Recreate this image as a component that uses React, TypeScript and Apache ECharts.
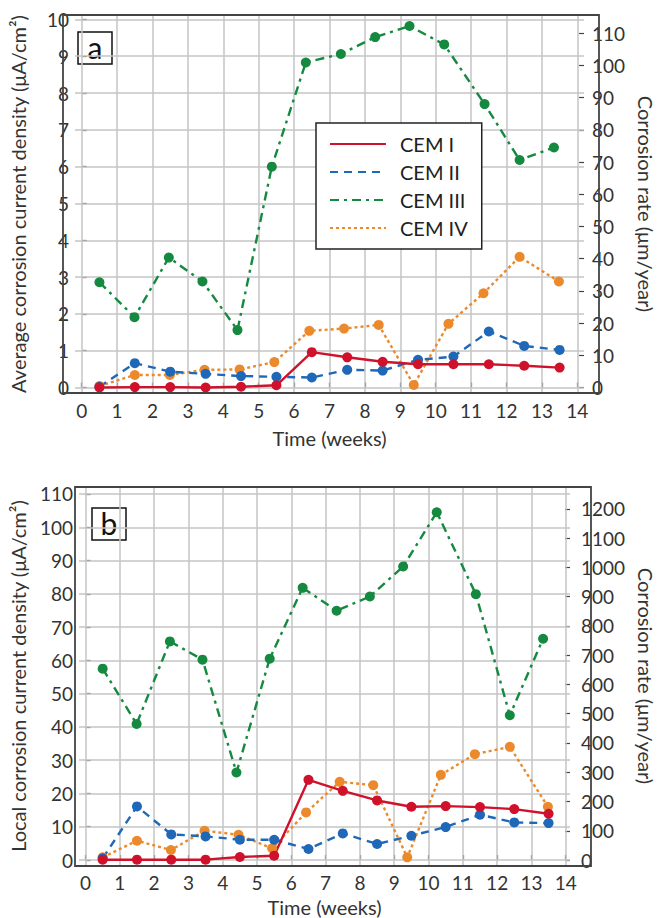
import React, { useEffect, useRef } from "react";
import * as echarts from "echarts";

const weeksMid = [0.5, 1.5, 2.5, 3.5, 4.5, 5.5, 6.5, 7.5, 8.5, 9.5, 10.5, 11.5, 12.5, 13.5];
const weeksIII = [0.5, 1.49, 2.46, 3.41, 4.4, 5.37, 6.33, 7.32, 8.29, 9.26, 10.24, 11.38, 12.37, 13.34];
const weeksIV = [0.5, 1.5, 2.49, 3.47, 4.46, 5.44, 6.43, 7.41, 8.39, 9.38, 10.36, 11.35, 12.37, 13.48];

const avgCEM1 = [0.0, 0.01, 0.01, 0.0, 0.02, 0.06, 0.96, 0.82, 0.7, 0.63, 0.63, 0.63, 0.59, 0.54];
const avgCEM2 = [0.02, 0.66, 0.43, 0.37, 0.31, 0.29, 0.27, 0.48, 0.46, 0.75, 0.84, 1.52, 1.13, 1.02];
const avgCEM3 = [2.86, 1.91, 3.53, 2.88, 1.56, 6.0, 8.83, 9.06, 9.52, 9.82, 9.32, 7.7, 6.18, 6.52];
const avgCEM4 = [0.04, 0.34, 0.34, 0.48, 0.49, 0.69, 1.54, 1.6, 1.7, 0.07, 1.73, 2.56, 3.55, 2.88];

const locCEM1 = [0.1, 0.1, 0.1, 0.1, 0.9, 1.3, 24.1, 20.8, 17.9, 16.0, 16.2, 15.9, 15.3, 13.9];
const locCEM2 = [0.5, 16.1, 7.7, 7.1, 6.1, 6.1, 3.3, 8.0, 4.8, 7.3, 9.9, 13.6, 11.3, 11.1];
const locCEM3 = [57.5, 40.9, 65.7, 60.2, 26.3, 60.5, 81.8, 74.9, 79.2, 88.2, 104.5, 79.9, 43.5, 66.5];
const locCEM4 = [0.8, 5.8, 3.0, 8.8, 7.6, 3.5, 14.3, 23.5, 22.5, 0.8, 25.6, 31.8, 34.0, 16.0];

const weekTicks = [0, 1, 2, 3, 4, 5, 6, 7, 8, 9, 10, 11, 12, 13, 14];
const avgTicks = [0, 1, 2, 3, 4, 5, 6, 7, 8, 9, 10];
const rateTicksA = [0, 10, 20, 30, 40, 50, 60, 70, 80, 90, 100, 110];
const locTicks = [0, 10, 20, 30, 40, 50, 60, 70, 80, 90, 100, 110];
const rateTicksB = [0, 100, 200, 300, 400, 500, 600, 700, 800, 900, 1000, 1100, 1200];

const seriesNames = ["CEM I", "CEM II", "CEM III", "CEM IV"];

const FONT = "Lato";
const TXT = "#333";
const FRAME = "#444";
const GRIDC = "#c4c4c4";
const TICK_FS = 19;
const NAME_FS = 20;

const colors: Record<string, string> = {
  "CEM I": "#d0112b",
  "CEM II": "#1f68b8",
  "CEM III": "#14893f",
  "CEM IV": "#eb8a2c",
};
const dashes: Record<string, any> = {
  "CEM I": "solid",
  "CEM II": [8, 6],
  "CEM III": [9, 5, 3, 5],
  "CEM IV": [3, 3],
};

const GRID_A = { left: 63, top: 15, width: 536, height: 378 };
const GRID_B = { left: 75, top: 487, width: 516, height: 379 };

function pairs(xs: number[], ys: number[]) {
  return xs.map((x, i) => [x, ys[i]]);
}

function gridMarkLine(xt: number[], yt: number[]) {
  return {
    silent: true,
    symbol: ["none", "none"],
    label: { show: false },
    lineStyle: { color: GRIDC, width: 1.5, type: "solid" },
    data: [...xt.map((v) => ({ xAxis: v })), ...yt.map((v) => ({ yAxis: v }))],
  };
}

function mkSeries(name: string, xs: number[], ys: number[], xi: number, yi: number) {
  return {
    type: "line",
    name,
    xAxisIndex: xi,
    yAxisIndex: yi,
    data: pairs(xs, ys),
    symbol: "circle",
    symbolSize: 10,
    showSymbol: true,
    itemStyle: { color: colors[name] },
    lineStyle: { color: colors[name], width: 2.4, type: dashes[name] },
    z: 6,
  };
}

function gridSeries(xi: number, yi: number, xt: number[], yt: number[]) {
  return {
    type: "scatter",
    name: "grid" + xi,
    xAxisIndex: xi,
    yAxisIndex: yi,
    data: [[xt[0], yt[0]]],
    symbolSize: 0,
    itemStyle: { opacity: 0 },
    silent: true,
    z: 1,
    markLine: gridMarkLine(xt, yt),
  };
}

const numFmt = (v: number) => String(v);

function xAxisCfg(gridIndex: number, min: number, max: number, gap: number) {
  return {
    type: "value",
    gridIndex,
    min,
    max,
    name: "Time (weeks)",
    nameLocation: "middle",
    nameGap: gap,
    nameTextStyle: { fontFamily: FONT, fontSize: NAME_FS, color: TXT },
    axisLine: { show: false },
    axisTick: { show: true, inside: true, length: 5, customValues: weekTicks, lineStyle: { color: FRAME, width: 1.2 } },
    axisLabel: { customValues: weekTicks, formatter: numFmt, margin: 8, fontFamily: FONT, fontSize: TICK_FS, color: TXT },
    splitLine: { show: false },
  };
}

function yAxisCfg(
  gridIndex: number,
  position: "left" | "right",
  min: number,
  max: number,
  ticks: number[],
  name: string,
  gap: number,
  margin: number
) {
  return {
    type: "value",
    gridIndex,
    position,
    min,
    max,
    name,
    nameLocation: "middle",
    nameGap: gap,
    nameRotate: position === "left" ? 90 : -90,
    nameTextStyle: { fontFamily: FONT, fontSize: NAME_FS, color: TXT },
    axisLine: { show: false },
    axisTick: { show: true, inside: true, length: 5, customValues: ticks, lineStyle: { color: FRAME, width: 1.2 } },
    axisLabel: { customValues: ticks, formatter: numFmt, margin, fontFamily: FONT, fontSize: TICK_FS, color: TXT },
    splitLine: { show: false },
  };
}

function frame(g: { left: number; top: number; width: number; height: number }) {
  return {
    type: "rect",
    z: 8,
    silent: true,
    shape: { x: g.left, y: g.top, width: g.width, height: g.height },
    style: { fill: "none", stroke: FRAME, lineWidth: 1.8 },
  };
}

function labelBox(letter: string, x: number, y: number) {
  return {
    type: "group",
    x,
    y,
    z: 10,
    children: [
      { type: "rect", shape: { x: 0, y: 0, width: 34, height: 32 }, style: { fill: "#fff", stroke: "#111", lineWidth: 1.5 } },
      {
        type: "text",
        x: 17,
        y: 15,
        style: { text: letter, fontFamily: FONT, fontSize: 30, fill: "#111", align: "center", verticalAlign: "middle" },
      },
    ],
  };
}

export default function App() {
  const ref = useRef<HTMLDivElement>(null);
  useEffect(() => {
    if (!ref.current) return;
    const chart = echarts.init(ref.current, null, { renderer: "svg" });
    const option: any = {
      animation: false,
      backgroundColor: "#fff",
      grid: [
        { ...GRID_A, show: false },
        { ...GRID_B, show: false },
      ],
      xAxis: [xAxisCfg(0, -0.19, 14.19, 35), xAxisCfg(1, -0.19, 14.125, 32)],
      yAxis: [
        yAxisCfg(0, "left", -0.15, 10.12, avgTicks, "Average corrosion current density (μA/cm²)", 47, 6),
        yAxisCfg(0, "right", -1.7, 115.7, rateTicksA, "Corrosion rate (μm/year)", 51, 8),
        yAxisCfg(1, "left", -1.5, 112.1, locTicks, "Local corrosion current density (μA/cm²)", 51, 6),
        yAxisCfg(1, "right", -17.05, 1275, rateTicksB, "Corrosion rate (μm/year)", 62, 11),
      ],
      legend: {
        data: seriesNames,
        orient: "vertical",
        left: 316,
        top: 123,
        itemWidth: 56,
        itemHeight: 20,
        itemGap: 8,
        padding: [11, 14, 11, 13],
        borderColor: "#222",
        borderWidth: 1.5,
        backgroundColor: "#fff",
        itemStyle: { opacity: 0 },
        textStyle: { fontFamily: FONT, fontSize: 20, color: "#222", padding: [0, 0, 0, 9] },
        z: 10,
      },
      graphic: [frame(GRID_A), frame(GRID_B), labelBox("a", 78, 32), labelBox("b", 92, 508)],
      series: [
        gridSeries(0, 0, weekTicks, avgTicks),
        gridSeries(1, 2, weekTicks, locTicks),
        mkSeries("CEM IV", weeksIV, avgCEM4, 0, 0),
        mkSeries("CEM III", weeksIII, avgCEM3, 0, 0),
        mkSeries("CEM II", weeksMid, avgCEM2, 0, 0),
        mkSeries("CEM I", weeksMid, avgCEM1, 0, 0),
        mkSeries("CEM IV", weeksIV, locCEM4, 1, 2),
        mkSeries("CEM III", weeksIII, locCEM3, 1, 2),
        mkSeries("CEM II", weeksMid, locCEM2, 1, 2),
        mkSeries("CEM I", weeksMid, locCEM1, 1, 2),
      ],
    };
    chart.setOption(option);
    return () => chart.dispose();
  }, []);
  return (
    <div
      ref={ref}
      style={{ position: "fixed", left: 0, top: 0, width: 664, height: 918, background: "#fff" }}
    />
  );
}
